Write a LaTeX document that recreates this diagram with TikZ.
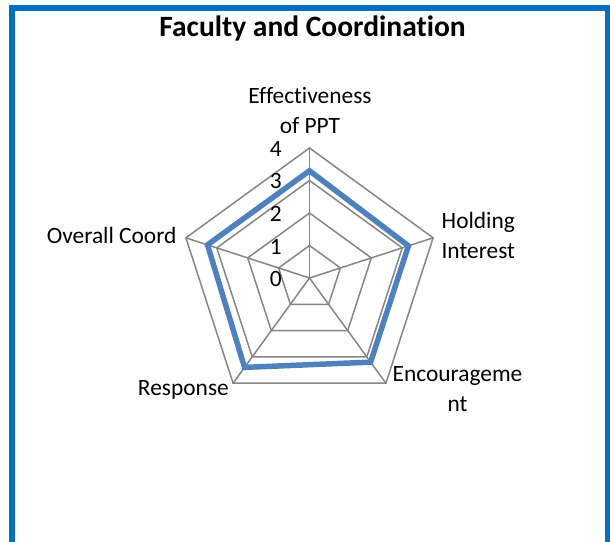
\documentclass[tikz,border=0pt]{standalone}
\usepackage{fontspec}
\setmainfont{Carlito}[Ligatures={NoCommon}]
\usetikzlibrary{calc}
\definecolor{frameblue}{RGB}{0,112,192}
\definecolor{serieblue}{RGB}{79,129,189}
\definecolor{gridgray}{RGB}{134,134,134}
\begin{document}
\begin{tikzpicture}[x=1bp,y=-1bp,
  framebox/.style={draw=frameblue,line width=6bp},
  gridline/.style={draw=gridgray,line width=1.5bp},
  serieline/.style={draw=serieblue,line width=5.5bp,line join=miter},
  lbl/.style={font=\fontsize{23.4bp}{30bp}\selectfont,inner sep=0pt,text=black},
  ticklbl/.style={lbl,anchor=base east},
  charttitle/.style={font=\fontsize{29.5bp}{34bp}\selectfont\bfseries,inner sep=0pt,text=black}]
\useasboundingbox (0,0) rectangle (610,542);
\fill[white] (0,0) rectangle (610,542);
\begin{scope}
  \clip (0,0) rectangle (610,542);
  \draw[framebox] (12,8) rectangle (607.5,600);
\end{scope}
\node[charttitle,anchor=base] (title) at (312.5,36.7) {Faculty and Coordination};
\coordinate (c) at (309.5,278);
\foreach \k in {0,...,4}{
  \foreach \r in {1,...,4}{
    \coordinate (g\r-\k) at ($(c)+({32.5*\r*sin(72*\k)},{-32.5*\r*cos(72*\k)})$);
  }
}
\foreach \r in {1,...,4}{
  \draw[gridline] (g\r-0) -- (g\r-1) -- (g\r-2) -- (g\r-3) -- (g\r-4) -- cycle;
}
\foreach \k in {0,...,4}{
  \draw[gridline] (c) -- (g4-\k);
}
\foreach \v [count=\k from 0] in {3.3,3.2,3.2,3.4,3.3}{
  \coordinate (d\k) at ($(c)+({32.5*\v*sin(72*\k)},{-32.5*\v*cos(72*\k)})$);
}
\draw[serieline] (d0) -- (d1) -- (d2) -- (d3) -- (d4) -- cycle;
\foreach \t in {0,...,4}{
  \node[ticklbl] (tick\t) at (282,{278-32.5*\t+8.5}) {\t};
}
\node[lbl,anchor=base] (lab0) at (310,103.3) {\begin{tabular}[t]{@{}c@{}}Effectiveness\\of PPT\end{tabular}};
\node[lbl,anchor=base] (lab1) at (478.3,228.3) {\begin{tabular}[t]{@{}c@{}}Holding\\Interest\end{tabular}};
\node[lbl,anchor=base] (lab2) at (457.5,381.7) {\begin{tabular}[t]{@{}c@{}}Encourageme\\nt\end{tabular}};
\node[lbl,anchor=base east] (lab3) at (229,395) {Response};
\node[lbl,anchor=base east] (lab4) at (176.7,243.3) {Overall Coord};
\end{tikzpicture}
\end{document}
